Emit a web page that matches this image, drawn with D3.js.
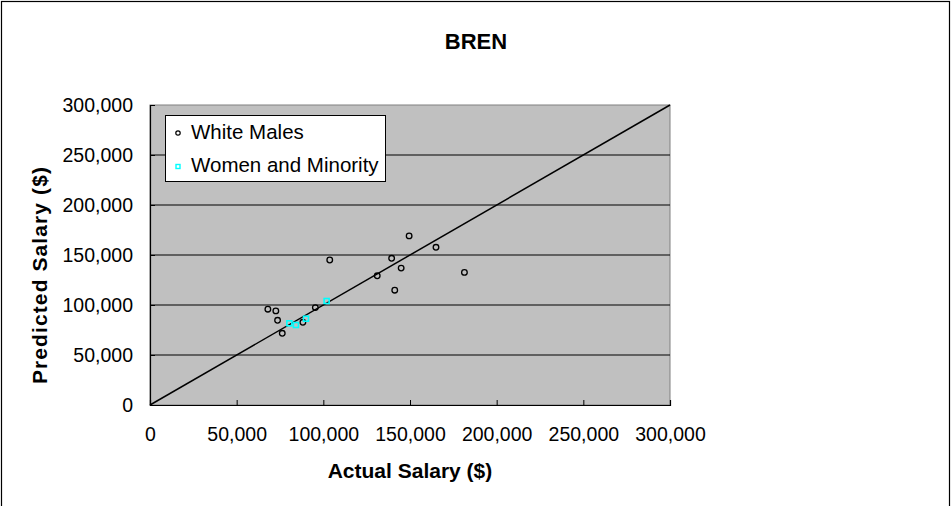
<!DOCTYPE html>
<html>
<head>
<meta charset="utf-8">
<script src="https://cdn.jsdelivr.net/npm/d3@7"></script>
<style>
  html, body { margin: 0; padding: 0; background: #fff; }
  svg { display: block; font-family: Arial, "Liberation Sans", sans-serif; }
</style>
</head>
<body>
<svg id="chart" width="952" height="506"></svg>
<script>
// ---- data ----
const chartTitle = "BREN";
const xTitle = "Actual Salary ($)";
const yTitle = "Predicted Salary ($)";
const seriesNames = ["White Males", "Women and Minority"];
const tickValues = [0, 50000, 100000, 150000, 200000, 250000, 300000];
const axisDomain = [0, 300000];

const whiteMalesActual =    [149500, 165000, 181400, 139400, 144900, 131100, 141200, 103700, 95400, 68000, 72600, 73600, 76300, 88200];
const whiteMalesPredicted = [169100, 157700, 132600, 146700, 136900, 129200, 114800, 145000, 97400, 95800, 94100, 84700, 71700, 82700];

const womenMinorityActual =    [80400, 84200, 90000, 101900];
const womenMinorityPredicted = [81700, 80000, 86300, 104000];

const referenceLine = [0, 300000];

// ---- layout ----
const svg = d3.select("#chart");
const plot = { left: 150, top: 105, width: 520, height: 300 };

const x = d3.scaleLinear().domain(axisDomain).range([plot.left, plot.left + plot.width]);
const y = d3.scaleLinear().domain(axisDomain).range([plot.top + plot.height, plot.top]);

// outer frame
svg.append("rect")
  .attr("x", 1.5).attr("y", 1.5).attr("width", 948).attr("height", 530)
  .attr("fill", "none").attr("stroke", "#000").attr("stroke-width", 1.2);

// plot background
svg.append("rect")
  .attr("x", plot.left).attr("y", plot.top)
  .attr("width", plot.width).attr("height", plot.height)
  .attr("fill", "#c0c0c0").attr("stroke", "#808080").attr("stroke-width", 1);

// gridlines
svg.append("g").selectAll("line")
  .data(tickValues.filter(v => v > 0 && v < 300000))
  .join("line")
  .attr("x1", plot.left).attr("x2", plot.left + plot.width)
  .attr("y1", d => y(d)).attr("y2", d => y(d))
  .attr("stroke", "#000").attr("stroke-width", 1);

// axes
const fmt = d3.format(",");
const yAxis = svg.append("g")
  .attr("transform", `translate(${plot.left},0)`)
  .call(d3.axisLeft(y).tickValues(tickValues).tickFormat(fmt).tickSize(-5).tickPadding(17));
const xAxis = svg.append("g")
  .attr("transform", `translate(0,${plot.top + plot.height})`)
  .call(d3.axisBottom(x).tickValues(tickValues).tickFormat(fmt).tickSize(-5).tickPadding(22));

[yAxis, xAxis].forEach(g => {
  g.select(".domain").attr("stroke", "#000").attr("stroke-width", 1.2);
  g.selectAll(".tick line").attr("stroke", "#000");
  g.selectAll(".tick text")
    .attr("fill", "#000")
    .style("font-size", "19.5px")
    .style("font-family", "Arial, 'Liberation Sans', sans-serif");
});

// diagonal reference line
svg.append("line")
  .attr("x1", x(referenceLine[0])).attr("y1", y(referenceLine[0]))
  .attr("x2", x(referenceLine[1])).attr("y2", y(referenceLine[1]))
  .attr("stroke", "#000").attr("stroke-width", 1.5);

// white males points
svg.append("g").selectAll("circle")
  .data(whiteMalesActual.map((a, i) => [a, whiteMalesPredicted[i]]))
  .join("circle")
  .attr("cx", d => x(d[0])).attr("cy", d => y(d[1]))
  .attr("r", 2.8)
  .attr("fill", "none").attr("stroke", "#000").attr("stroke-width", 1.3);

// women and minority points
svg.append("g").selectAll("rect")
  .data(womenMinorityActual.map((a, i) => [a, womenMinorityPredicted[i]]))
  .join("rect")
  .attr("x", d => x(d[0]) - 2.5).attr("y", d => y(d[1]) - 2.5)
  .attr("width", 5).attr("height", 5)
  .attr("fill", "none").attr("stroke", "#00ffff").attr("stroke-width", 1.6);

// legend
const lg = svg.append("g");
lg.append("rect")
  .attr("x", 165.5).attr("y", 115.5).attr("width", 220).attr("height", 66)
  .attr("fill", "#fff").attr("stroke", "#000").attr("stroke-width", 1);
lg.append("circle")
  .attr("cx", 178).attr("cy", 133).attr("r", 2.2)
  .attr("fill", "none").attr("stroke", "#000").attr("stroke-width", 1.2);
lg.append("rect")
  .attr("x", 176).attr("y", 164.5).attr("width", 4).attr("height", 4)
  .attr("fill", "none").attr("stroke", "#00ffff").attr("stroke-width", 1.4);
lg.selectAll("text")
  .data(seriesNames)
  .join("text")
  .attr("x", 191)
  .attr("y", (d, i) => 139 + i * 33)
  .style("font-size", "20.5px")
  .attr("fill", "#000")
  .text(d => d);

// titles
svg.append("text")
  .attr("x", 476).attr("y", 49)
  .attr("text-anchor", "middle")
  .style("font-size", "22px").style("font-weight", "bold")
  .text(chartTitle);

svg.append("text")
  .attr("x", 410).attr("y", 478)
  .attr("text-anchor", "middle")
  .style("font-size", "21px").style("font-weight", "bold")
  .text(xTitle);

svg.append("text")
  .attr("transform", "translate(47,275) rotate(-90)")
  .attr("text-anchor", "middle")
  .style("font-size", "21px").style("font-weight", "bold")
  .style("letter-spacing", "1.1px")
  .text(yTitle);
</script>
</body>
</html>
